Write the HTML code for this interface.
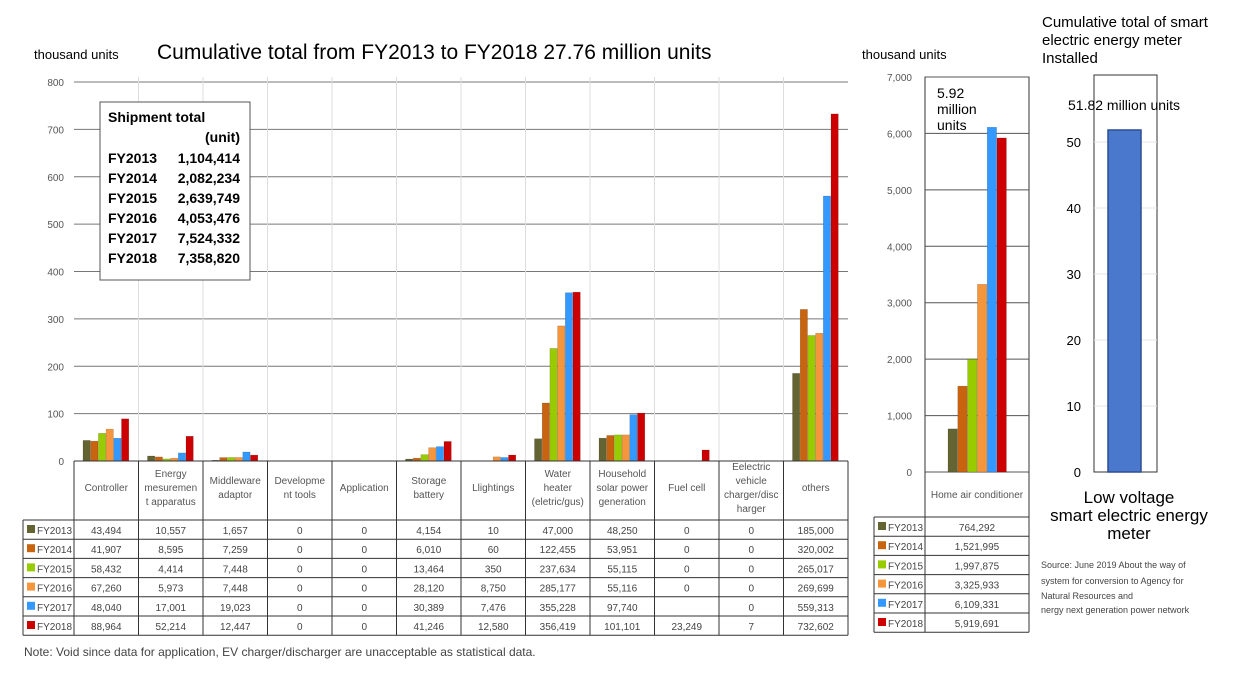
<!DOCTYPE html>
<html><head><meta charset="utf-8"><style>
body{margin:0;background:#fff;width:1254px;height:678px;overflow:hidden;font-family:"Liberation Sans",sans-serif}
svg text{font-family:"Liberation Sans",sans-serif}
</style></head><body>
<svg id="c" width="1254" height="678" xmlns="http://www.w3.org/2000/svg">
<text x="34" y="59" font-size="13">thousand units</text>
<text x="157" y="59" font-size="21">Cumulative total from FY2013 to FY2018  27.76 million units</text>
<text x="862" y="59" font-size="13">thousand units</text>
<text x="1042" y="27" font-size="15">Cumulative total of smart</text>
<text x="1042" y="45" font-size="15">electric energy meter</text>
<text x="1042" y="63" font-size="15">Installed</text>
<text x="24" y="656" font-size="12" fill="#444">Note: Void since data for application, EV charger/discharger are unacceptable as statistical data.</text>
<g font-size="9" fill="#444">
<text x="1041" y="568">Source: June 2019 About the way of</text>
<text x="1041" y="584">system for conversion to Agency for</text>
<text x="1041" y="599">Natural Resources and</text>
<text x="1041" y="613">nergy next generation power network</text>
</g>
<g id="main"></g><g id="ac"></g><g id="meter"></g>
</svg>
<script>
const years=["FY2013","FY2014","FY2015","FY2016","FY2017","FY2018"];
const colors=["#646432","#c8640f","#99cc00","#f5963c","#3399ff","#cc0000"];
const categories=[["Controller"],["Energy","mesuremen","t apparatus"],["Middleware","adaptor"],["Developme","nt tools"],["Application"],["Storage","battery"],["Llightings"],["Water","heater","(eletric/gus)"],["Household","solar power","generation"],["Fuel cell"],["Eelectric","vehicle","charger/disc","harger"],["others"]];
const v2013=[43494,10557,1657,0,0,4154,10,47000,48250,0,0,185000];
const v2014=[41907,8595,7259,0,0,6010,60,122455,53951,0,0,320002];
const v2015=[58432,4414,7448,0,0,13464,350,237634,55115,0,0,265017];
const v2016=[67260,5973,7448,0,0,28120,8750,285177,55116,0,0,269699];
const v2017=[48040,17001,19023,0,0,30389,7476,355228,97740,null,0,559313];
const v2018=[88964,52214,12447,0,0,41246,12580,356419,101101,23249,7,732602];
const series=[v2013,v2014,v2015,v2016,v2017,v2018];
const mainTicks=[0,100,200,300,400,500,600,700,800];
const totals=["1,104,414","2,082,234","2,639,749","4,053,476","7,524,332","7,358,820"];
const acValues=[764292,1521995,1997875,3325933,6109331,5919691];
const acTicks=[0,1000,2000,3000,4000,5000,6000,7000];
const meterValue=[51.82];
const meterTicks=[0,10,20,30,40,50];
const NS="http://www.w3.org/2000/svg";
function el(p,t,a,txt){const e=document.createElementNS(NS,t);for(const k in a)e.setAttribute(k,a[k]);if(txt!==undefined)e.textContent=txt;p.appendChild(e);return e;}
const fmt=n=>n===null?"":n.toLocaleString("en-US");
// main
const M=document.getElementById('main');
const x0=74,cw=64.5,y0=461,yTop=82;
const ys=v=>y0-(v/1000)/800*(y0-yTop);
mainTicks.forEach(t=>{
 if(t>0){const l=el(M,'line',{x1:x0,x2:x0+12*cw,y1:ys(t*1000),y2:ys(t*1000),stroke:'#777','stroke-width':1});
 }
 const tx=el(M,'text',{x:64,y:ys(t*1000)+4,'font-size':10,fill:'#555','text-anchor':'end'},t);
 
});
for(let i=1;i<12;i++){const l=el(M,'line',{x1:x0+i*cw,x2:x0+i*cw,y1:yTop-5,y2:y0,stroke:'#ddd'});
 }
categories.forEach((c,ci)=>{
 series.forEach((s,si)=>{const v=s[ci];if(!v)return;
  const bx=x0+ci*cw+9+si*7.7;const r=el(M,'rect',{x:bx,y:ys(v),width:7.3,height:y0-ys(v),fill:colors[si],stroke:'rgba(0,0,0,0.25)','stroke-width':0.5});
  });
});
// shipment box
const B=el(M,'g',{});
el(B,'rect',{x:100,y:102,width:150,height:178,fill:'#fff',stroke:'#555'});
el(B,'text',{x:108,y:122,'font-size':14,'font-weight':'bold'},'Shipment total');
el(B,'text',{x:240,y:142,'font-size':14,'font-weight':'bold','text-anchor':'end'},'(unit)');
years.forEach((y,i)=>{el(B,'text',{x:108,y:163+i*20,'font-size':14,'font-weight':'bold'},y);
 el(B,'text',{x:240,y:163+i*20,'font-size':14,'font-weight':'bold','text-anchor':'end'},totals[i]);});
// table
const T=el(M,'g',{});
const rowY=520,rh=19.2,tR=x0+12*cw;
el(T,'line',{x1:x0,x2:tR,y1:y0,y2:y0,stroke:'#333'});
for(let i=0;i<=12;i++)el(T,'line',{x1:x0+i*cw,x2:x0+i*cw,y1:y0,y2:rowY+6*rh,stroke:'#333'});
el(T,'line',{x1:23,x2:23,y1:rowY,y2:rowY+6*rh,stroke:'#333'});
for(let r=0;r<=6;r++)el(T,'line',{x1:23,x2:tR,y1:rowY+r*rh,y2:rowY+r*rh,stroke:'#333'});
categories.forEach((c,ci)=>{const cx=x0+ci*cw+cw/2;const st=491-(c.length-1)*10.5/1+ (c.length-1)*3.5;
 c.forEach((ln,li)=>el(T,'text',{x:cx,y:st+li*14,'font-size':10,fill:'#555','text-anchor':'middle'},ln));
 series.forEach((s,si)=>el(T,'text',{x:cx,y:rowY+si*rh+14,'font-size':10,fill:'#444','text-anchor':'middle'},fmt(s[ci])));});
years.forEach((y,i)=>{el(T,'rect',{x:27,y:rowY+i*rh+5,width:8,height:8,fill:colors[i]});
 el(T,'text',{x:37,y:rowY+i*rh+14,'font-size':10,fill:'#444'},y);});
// aircon
const A=document.getElementById('ac');
const ax0=925,ax1=1029,ay0=472,ayT=77;
const as=v=>ay0-(v/1000)/7000*(ay0-ayT);
el(A,'rect',{x:ax0,y:ayT,width:ax1-ax0,height:ay0-ayT,fill:'#fff',stroke:'#333'});
acTicks.forEach(t=>{const l=el(A,'line',{x1:ax0,x2:ax1,y1:as(t*1000),y2:as(t*1000),stroke:'#555'});
 
 const tx=el(A,'text',{x:912,y:as(t*1000)+4,'font-size':10,fill:'#555','text-anchor':'end'},t.toLocaleString('en-US'));
 });
const lb=el(A,'g',{});
el(lb,'rect',{x:930,y:80,width:60,height:50,fill:'#fff'});
['5.92','million','units'].forEach((s,i)=>el(lb,'text',{x:937,y:98+i*16,'font-size':14},s));
acValues.forEach((v,i)=>{const r=el(A,'rect',{x:948+i*9.8,y:as(v),width:9.4,height:ay0-as(v),fill:colors[i],stroke:'rgba(0,0,0,0.25)','stroke-width':0.5});
 });
const AT=el(A,'g',{});
const arY=517,arh=19.2;
el(AT,'line',{x1:ax0,x2:ax0,y1:ay0,y2:arY+6*arh,stroke:'#333'});el(AT,'line',{x1:ax1,x2:ax1,y1:ay0,y2:arY+6*arh,stroke:'#333'});
el(AT,'line',{x1:874,x2:874,y1:arY,y2:arY+6*arh,stroke:'#333'});
el(AT,'text',{x:977,y:498,'font-size':10,fill:'#555','text-anchor':'middle'},'Home air conditioner');
for(let r=0;r<=6;r++)el(AT,'line',{x1:874,x2:ax1,y1:arY+r*arh,y2:arY+r*arh,stroke:'#333'});
years.forEach((y,i)=>{el(AT,'rect',{x:878,y:arY+i*arh+5,width:8,height:8,fill:colors[i]});
 el(AT,'text',{x:888,y:arY+i*arh+14,'font-size':10,fill:'#444'},y);
 el(AT,'text',{x:977,y:arY+i*arh+14,'font-size':10,fill:'#444','text-anchor':'middle'},fmt(acValues[i]));});
// meter
const R=document.getElementById('meter');
const mx0=1094,mx1=1157,my0=472,myT=75;
const ms=v=>my0-v/10*66;
el(R,'rect',{x:mx0,y:myT,width:mx1-mx0,height:my0-myT,fill:'#fff',stroke:'#333'});
meterTicks.forEach(t=>{if(t>0){const l=el(R,'line',{x1:mx0,x2:mx1,y1:ms(t),y2:ms(t),stroke:'#e4e4e4'});}
 const tx=el(R,'text',{x:1081,y:ms(t)+5,'font-size':13,'text-anchor':'end'},t);
 });
meterValue.forEach(v=>{const r=el(R,'rect',{x:1108,y:ms(v),width:33,height:my0-ms(v),fill:'#4a78cc',stroke:'#2c4f94','stroke-width':1.5});
 });
const ml=el(R,'text',{x:1068,y:110,'font-size':14},'51.82 million units');
const mc=el(R,'g',{'font-size':17,'text-anchor':'middle'});
['Low voltage','smart electric energy','meter'].forEach((s,i)=>el(mc,'text',{x:1129,y:503+i*18},s));
</script>
</body></html>
